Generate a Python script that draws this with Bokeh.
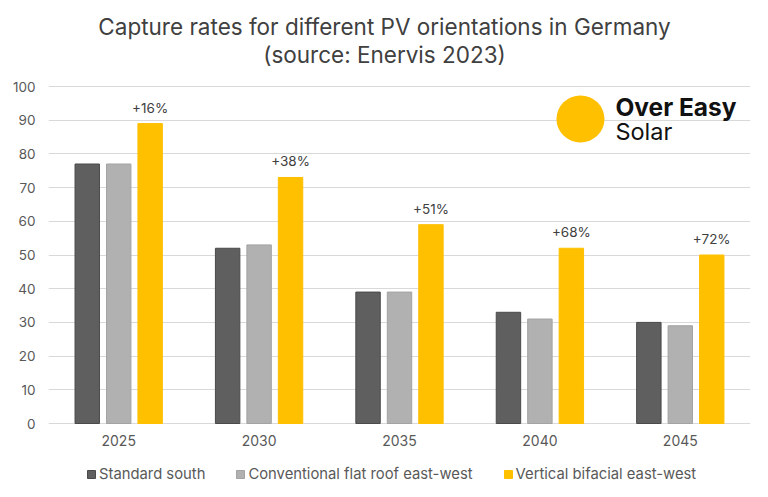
from bokeh.plotting import figure
from bokeh.models import (FactorRange, Range1d, ColumnDataSource, Legend, LegendItem,
                          Label, FixedTicker)
from bokeh.transform import dodge
from bokeh.core.properties import value
from bokeh.embed import file_html
from bokeh.resources import INLINE

years = ["2025", "2030", "2035", "2040", "2045"]
standard_south = [77, 52, 39, 33, 30]
flat_roof_ew = [77, 53, 39, 31, 29]
vertical_bifacial = [89, 73, 59, 52, 50]
gain_labels = ["+16%", "+38%", "+51%", "+68%", "+72%"]
y_ticks = [0, 10, 20, 30, 40, 50, 60, 70, 80, 90, 100]
series_names = ["Standard south", "Conventional flat roof east-west", "Vertical bifacial east-west"]
title_lines = ["Capture rates for different PV orientations in Germany", "(source: Enervis 2023)"]
colors = ["#5f5f5f", "#b1b1b1", "#ffc000"]
outlines = ["#4a4a4a", "#a3a3a3", "#ffc000"]

FONT = "Inter"

src = ColumnDataSource(dict(x=years, s=standard_south, f=flat_roof_ew, v=vertical_bifacial,
                            lab=gain_labels, zero=[0] * len(years)))

# the frame spans (almost) the whole canvas so that titles, category labels and the
# legend can all sit inside it; gridlines/ticks are restricted to 0..100
p = figure(x_range=FactorRange(*years), y_range=Range1d(-19.88, 125.52),
           width=768, height=497, output_backend="svg", toolbar_location=None,
           min_border_left=48, min_border_right=18, min_border_top=0, min_border_bottom=7)

# title (two centred lines, centred on the whole picture)
for t, yy in zip(title_lines, [117.86, 109.57]):
    p.add_layout(Label(x=2.393, y=yy, text=t, text_align="center", text_baseline="middle",
                       text_font=FONT, text_font_size="22.5px", text_font_style="normal",
                       text_color="#404040"))

bw = 0.174
off = 0.224
r1 = p.vbar(x=dodge("x", -off, range=p.x_range), top="s", width=bw, source=src,
            fill_color=colors[0], line_color=outlines[0], line_width=1)
r2 = p.vbar(x=dodge("x", 0, range=p.x_range), top="f", width=bw, source=src,
            fill_color=colors[1], line_color=outlines[1], line_width=1)
r3 = p.vbar(x=dodge("x", off, range=p.x_range), top="v", width=bw, source=src,
            fill_color=colors[2], line_color=outlines[2], line_width=1)

# percentage gains above the vertical bifacial bars
p.text(x=dodge("x", off, range=p.x_range), y="v", text="lab", source=src,
       text_align="center", text_baseline="middle", y_offset=-16,
       text_font=value(FONT), text_font_size="13.5px", text_color="#404040")

# category labels under the baseline
p.text(x="x", y="zero", text="x", source=src, text_align="center", text_baseline="middle",
       y_offset=17, text_font=value(FONT), text_font_size="14px", text_color="#595959")

# logo
p.ellipse(x=[3.789], y=[90.36], width=48, height=47, width_units="screen", height_units="screen",
          fill_color="#ffc000", line_color=None)
p.add_layout(Label(x=4.038, y=93.92, text="Over Easy", text_font=FONT, text_font_size="24.5px",
                   text_font_style="bold", text_color="#111111", text_baseline="middle"))
p.add_layout(Label(x=4.038, y=86.56, text="Solar", text_font=FONT, text_font_size="23.5px",
                   text_font_style="normal", text_color="#111111", text_baseline="middle"))

p.xaxis.visible = False
p.yaxis.ticker = FixedTicker(ticks=y_ticks)
p.yaxis.axis_line_color = None
p.yaxis.major_tick_line_color = None
p.yaxis.minor_tick_line_color = None
p.yaxis.major_tick_out = 0
p.yaxis.major_tick_in = 0
p.yaxis.major_label_text_font = FONT
p.yaxis.major_label_text_color = "#595959"
p.yaxis.major_label_text_font_size = "13.5px"
p.yaxis.major_label_standoff = 13
p.xgrid.grid_line_color = None
p.ygrid.grid_line_color = "#d9d9d9"
p.ygrid.grid_line_width = 1
p.outline_line_color = None
p.x_range.range_padding = 0

legend = Legend(items=[LegendItem(label=series_names[0], renderers=[r1]),
                       LegendItem(label=series_names[1], renderers=[r2]),
                       LegendItem(label=series_names[2], renderers=[r3])],
                orientation="horizontal", location=(38, 7),
                glyph_width=10, glyph_height=10, label_standoff=3, spacing=30,
                padding=2, margin=0, border_line_color=None, background_fill_alpha=0,
                label_text_font=FONT, label_text_font_size="14.8px", label_text_color="#595959")
p.add_layout(legend, "center")

open("out.html", "w").write(file_html(p, INLINE))
